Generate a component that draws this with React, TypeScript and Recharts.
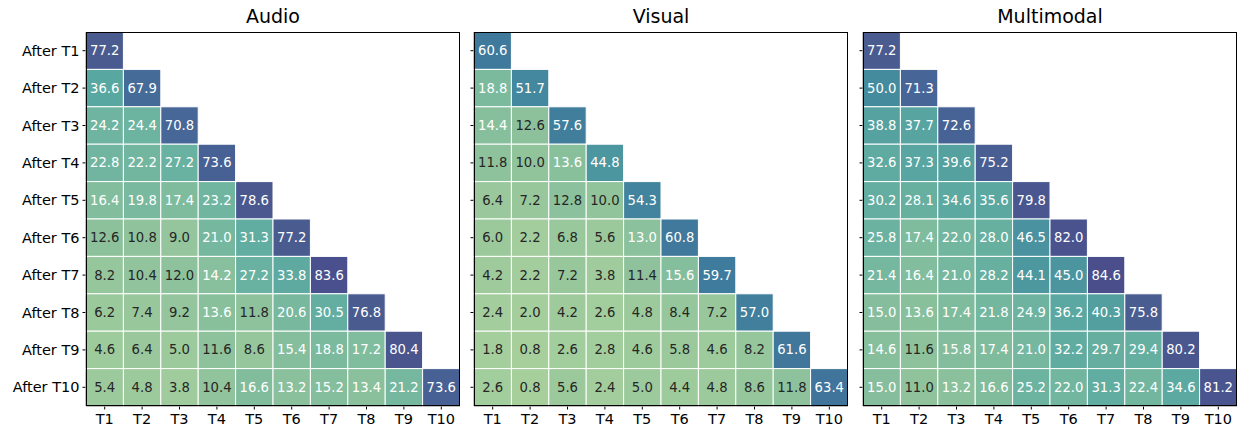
import React from "react"
import { ScatterChart, Scatter, XAxis, YAxis } from "recharts"

const TASKS = ["T1", "T2", "T3", "T4", "T5", "T6", "T7", "T8", "T9", "T10"]
const ROW_LABELS = TASKS.map((t) => `After ${t}`)

// accuracy after training on task i (row), evaluated on task j (column)
const AUDIO = [
  [77.2],
  [36.6, 67.9],
  [24.2, 24.4, 70.8],
  [22.8, 22.2, 27.2, 73.6],
  [16.4, 19.8, 17.4, 23.2, 78.6],
  [12.6, 10.8, 9.0, 21.0, 31.3, 77.2],
  [8.2, 10.4, 12.0, 14.2, 27.2, 33.8, 83.6],
  [6.2, 7.4, 9.2, 13.6, 11.8, 20.6, 30.5, 76.8],
  [4.6, 6.4, 5.0, 11.6, 8.6, 15.4, 18.8, 17.2, 80.4],
  [5.4, 4.8, 3.8, 10.4, 16.6, 13.2, 15.2, 13.4, 21.2, 73.6],
]

const VISUAL = [
  [60.6],
  [18.8, 51.7],
  [14.4, 12.6, 57.6],
  [11.8, 10.0, 13.6, 44.8],
  [6.4, 7.2, 12.8, 10.0, 54.3],
  [6.0, 2.2, 6.8, 5.6, 13.0, 60.8],
  [4.2, 2.2, 7.2, 3.8, 11.4, 15.6, 59.7],
  [2.4, 2.0, 4.2, 2.6, 4.8, 8.4, 7.2, 57.0],
  [1.8, 0.8, 2.6, 2.8, 4.6, 5.8, 4.6, 8.2, 61.6],
  [2.6, 0.8, 5.6, 2.4, 5.0, 4.4, 4.8, 8.6, 11.8, 63.4],
]

const MULTIMODAL = [
  [77.2],
  [50.0, 71.3],
  [38.8, 37.7, 72.6],
  [32.6, 37.3, 39.6, 75.2],
  [30.2, 28.1, 34.6, 35.6, 79.8],
  [25.8, 17.4, 22.0, 28.0, 46.5, 82.0],
  [21.4, 16.4, 21.0, 28.2, 44.1, 45.0, 84.6],
  [15.0, 13.6, 17.4, 21.8, 24.9, 36.2, 40.3, 75.8],
  [14.6, 11.6, 15.8, 17.4, 21.0, 32.2, 29.7, 29.4, 80.2],
  [15.0, 11.0, 13.2, 16.6, 25.2, 22.0, 31.3, 22.4, 34.6, 81.2],
]

const PANELS = [
  { title: "Audio", rows: AUDIO },
  { title: "Visual", rows: VISUAL },
  { title: "Multimodal", rows: MULTIMODAL },
]

// crest-like colormap
const COLOR_STOPS: [number, [number, number, number]][] = [
  [0, [168, 208, 156]],
  [12.6, [140, 193, 156]],
  [24, [110, 180, 160]],
  [36, [90, 168, 161]],
  [50, [68, 139, 158]],
  [60, [63, 122, 156]],
  [70, [70, 104, 152]],
  [77, [74, 91, 144]],
  [85, [74, 78, 140]],
]

function cellColor(v: number) {
  let i = 0
  while (i < COLOR_STOPS.length - 2 && v > COLOR_STOPS[i + 1][0]) i++
  const [v0, c0] = COLOR_STOPS[i]
  const [v1, c1] = COLOR_STOPS[i + 1]
  const t = Math.max(0, Math.min(1, (v - v0) / (v1 - v0)))
  const c = c0.map((a, k) => Math.round(a + (c1[k] - a) * t))
  return `rgb(${c[0]},${c[1]},${c[2]})`
}

const FONT = "'DejaVu Sans', sans-serif"
const PLOT = 374
const CELL = PLOT / 10
const TOP = 32
const AXIS_H = 23
const TICKS = TASKS.map((_, i) => i + 0.5)
const PLOT_LEFT = [86, 474, 863]

function toPoints(rows: number[][]) {
  const pts: { x: number; y: number; value: number }[] = []
  rows.forEach((row, r) =>
    row.forEach((value, c) => pts.push({ x: c + 0.5, y: r + 0.5, value }))
  )
  return pts
}

function HeatCell(props: any) {
  const { cx, cy, payload } = props
  if (cx == null || cy == null) return null
  const v = payload.value as number
  return (
    <g>
      <rect
        x={cx - CELL / 2}
        y={cy - CELL / 2}
        width={CELL}
        height={CELL}
        fill={cellColor(v)}
        stroke="#fff"
        strokeWidth={1}
      />
      <text
        x={cx}
        y={cy}
        textAnchor="middle"
        dominantBaseline="central"
        fontSize={13.2}
        fontFamily={FONT}
        fill={v >= 12.9 ? "#ffffff" : "#262626"}
      >
        {v.toFixed(1)}
      </text>
    </g>
  )
}

function Panel({ title, rows, index }: { title: string; rows: number[][]; index: number }) {
  const yw = index === 0 ? 86 : 14
  const plotLeft = PLOT_LEFT[index]
  const width = yw + PLOT + 4
  return (
    <>
      <div
        style={{
          position: "absolute",
          left: plotLeft,
          top: 5,
          width: PLOT,
          textAlign: "center",
          fontFamily: FONT,
          fontSize: 19,
          color: "#000",
        }}
      >
        {title}
      </div>
      <div style={{ position: "absolute", left: plotLeft - yw, top: 0 }}>
        <ScatterChart
          width={width}
          height={TOP + PLOT + AXIS_H}
          margin={{ top: TOP, right: 4, bottom: 0, left: 0 }}
        >
          <XAxis
            type="number"
            dataKey="x"
            domain={[0, 10]}
            ticks={TICKS}
            tickFormatter={(v: number) => TASKS[Math.round(v - 0.5)]}
            height={AXIS_H}
            stroke="#000"
            tickSize={3.5}
            tickMargin={4.5}
            tick={{ fill: "#000", fontSize: 14.5, fontFamily: FONT }}
            interval={0}
          />
          <YAxis
            type="number"
            dataKey="y"
            domain={[0, 10]}
            reversed
            ticks={TICKS}
            tickFormatter={(v: number) => (index === 0 ? ROW_LABELS[Math.round(v - 0.5)] : "")}
            width={yw}
            stroke="#000"
            tickSize={3.5}
            tickMargin={3}
            tick={{ fill: "#000", fontSize: 14.5, fontFamily: FONT }}
            interval={0}
          />
          <Scatter data={toPoints(rows)} shape={HeatCell} isAnimationActive={false} />
        </ScatterChart>
      </div>
      <div
        style={{
          position: "absolute",
          left: plotLeft,
          top: TOP,
          width: PLOT,
          height: PLOT,
          border: "1px solid #000",
          boxSizing: "border-box",
          pointerEvents: "none",
        }}
      />
    </>
  )
}

export default function App() {
  return (
    <div
      style={{
        position: "absolute",
        left: 0,
        top: 0,
        width: 1239,
        height: 429,
        background: "#fff",
        overflow: "hidden",
      }}
    >
      {PANELS.map((p, i) => (
        <Panel key={p.title} title={p.title} rows={p.rows} index={i} />
      ))}
    </div>
  )
}
